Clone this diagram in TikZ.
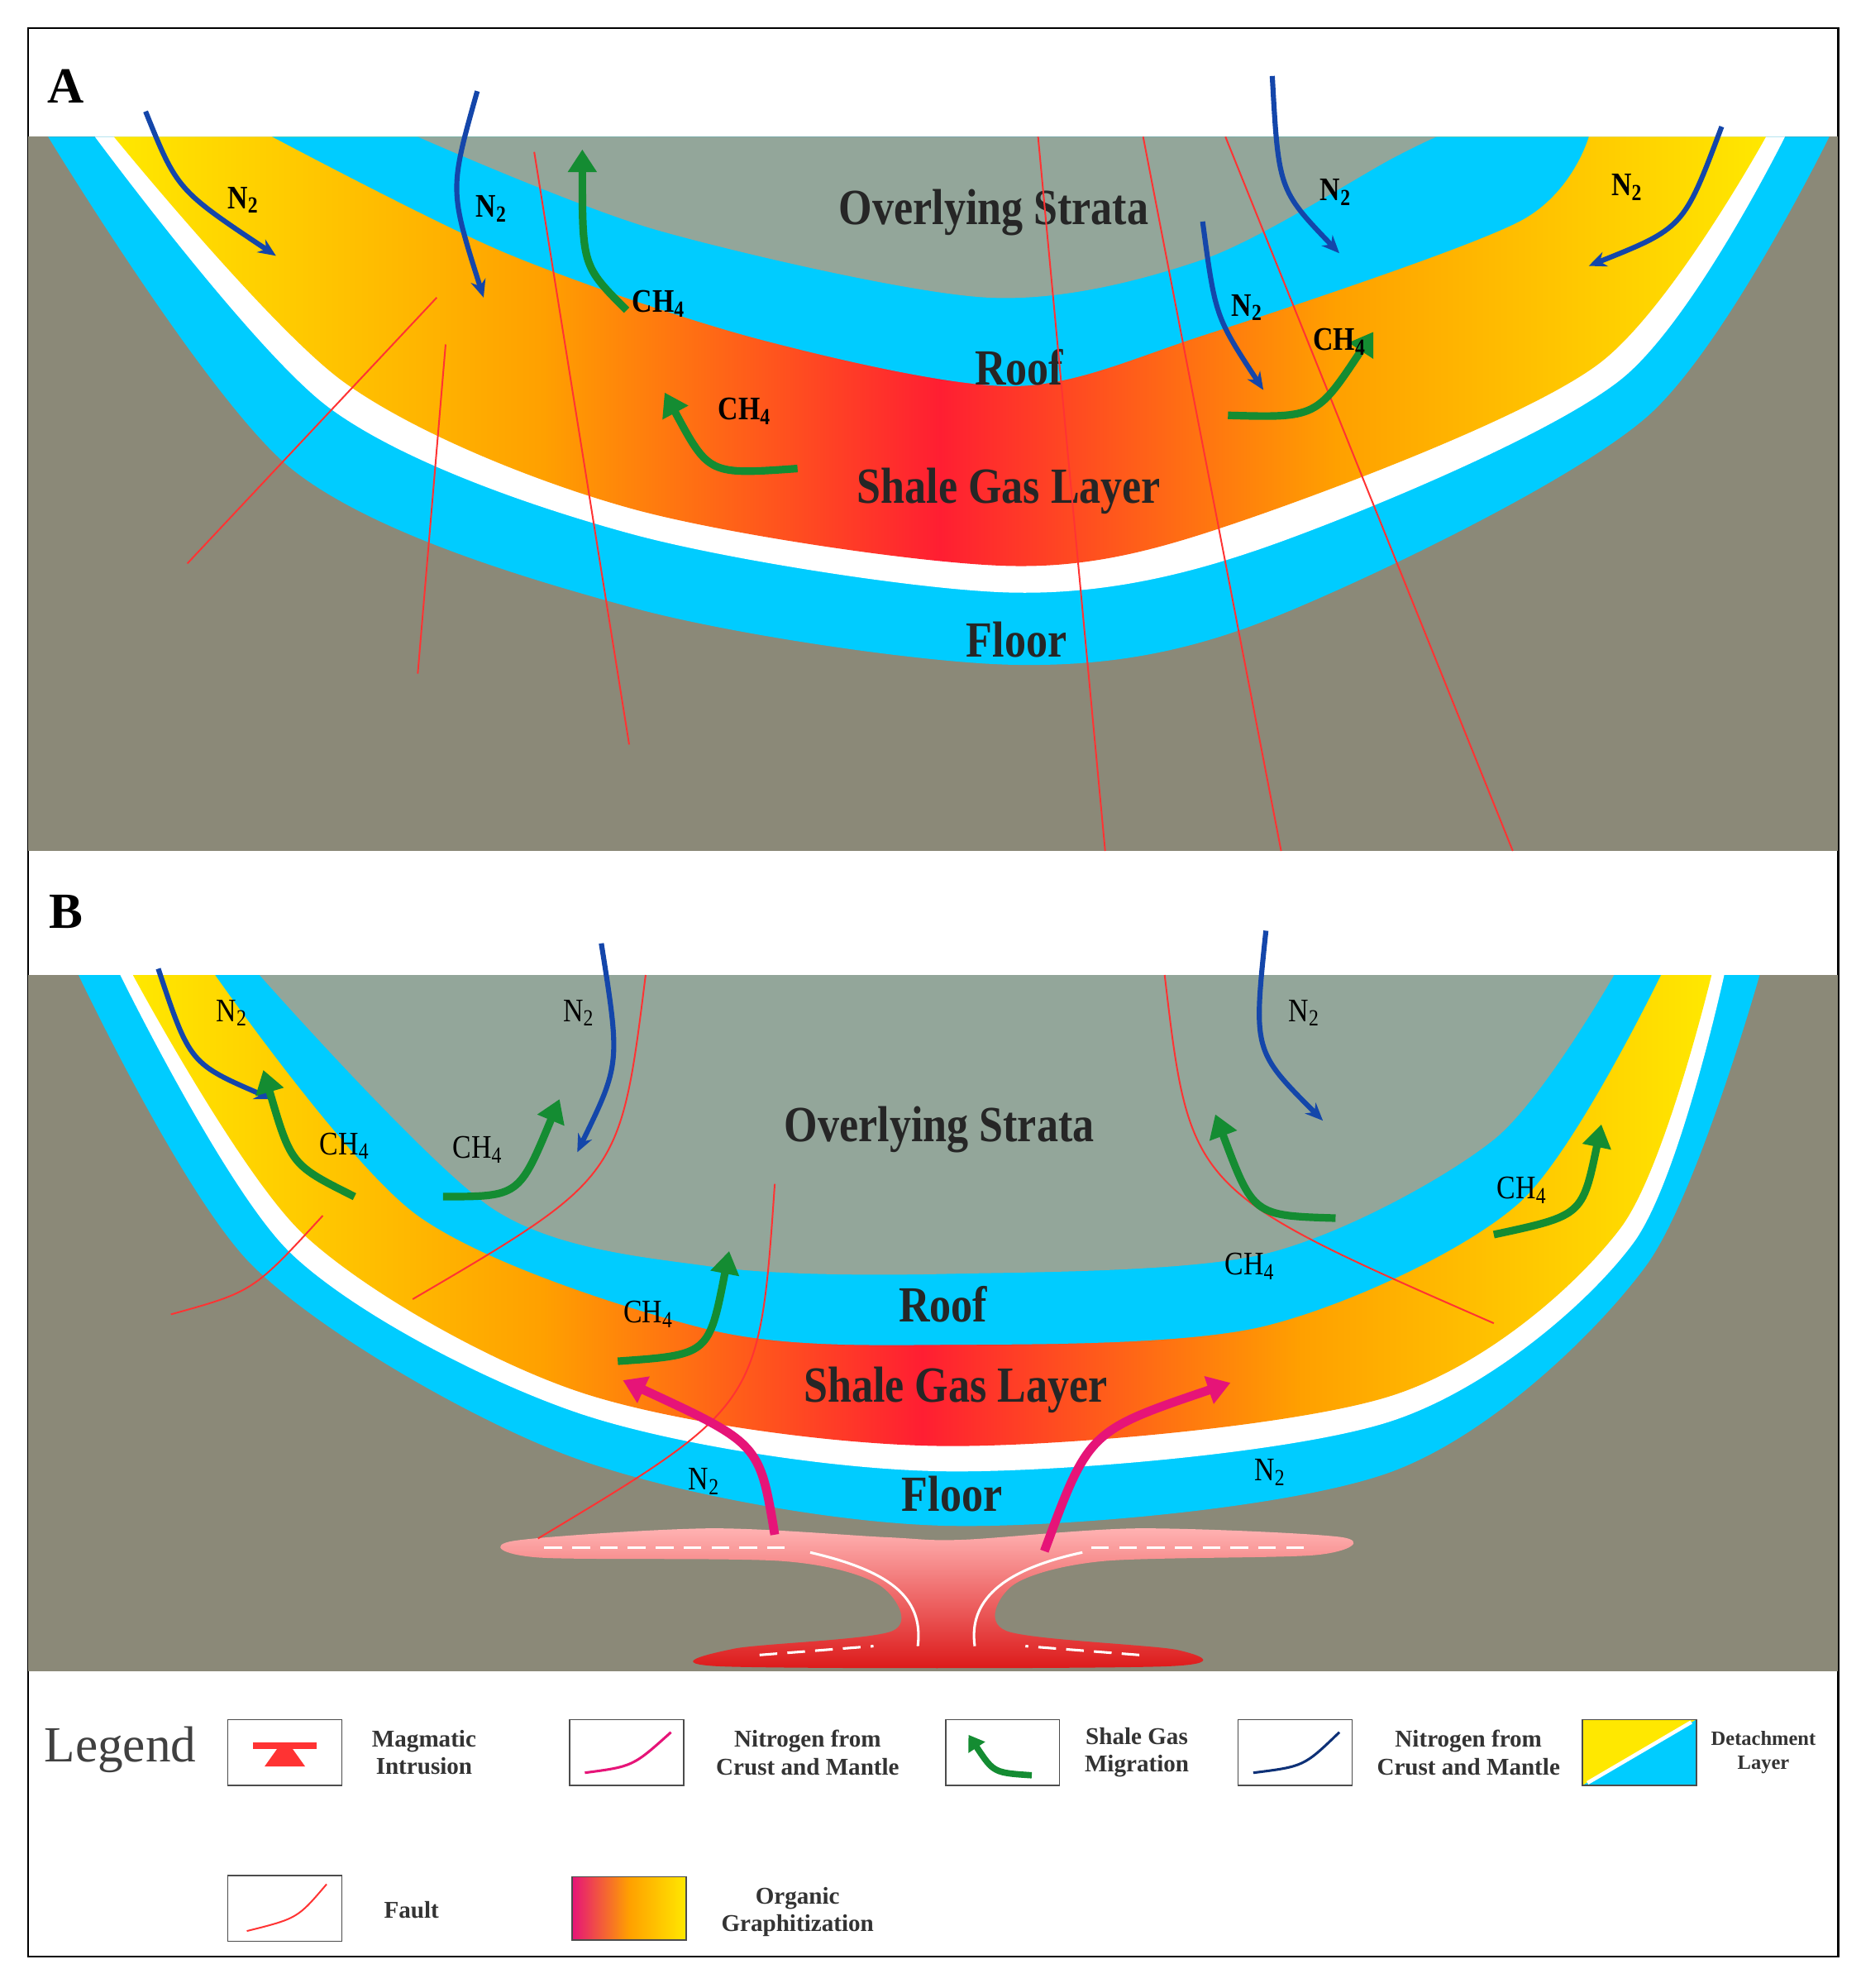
\documentclass[tikz,border=0pt]{standalone}
\usepackage{fontspec}
\setmainfont{Liberation Serif}
\usetikzlibrary{arrows.meta}
\definecolor{bg}{RGB}{139,137,120}
\definecolor{ovl}{RGB}{147,166,154}
\definecolor{cy}{RGB}{0,204,255}
\definecolor{yl}{RGB}{255,232,0}
\definecolor{orn}{RGB}{255,160,0}
\definecolor{rd}{RGB}{255,30,50}
\definecolor{n2}{RGB}{20,70,170}
\definecolor{gr}{RGB}{20,140,50}
\definecolor{mg}{RGB}{230,20,120}
\pgfdeclarehorizontalshading{shale}{100bp}{color(0bp)=(yl);color(25bp)=(yl);color(38bp)=(orn);color(50bp)=(rd);color(62bp)=(orn);color(75bp)=(yl);color(100bp)=(yl)}
\pgfdeclarehorizontalshading{org}{100bp}{color(0bp)=(mg);color(25bp)=(mg);color(50bp)=(orn);color(75bp)=(yl);color(100bp)=(yl)}
\tikzset{
 big/.style={font=\fontsize{40}{44}\bfseries\selectfont,xscale=0.85,text=black!85},
 lab/.style={font=\fontsize{26}{28}\bfseries\selectfont,xscale=0.85},
 labn/.style={font=\fontsize{26}{28}\selectfont,xscale=0.85},
 leg/.style={font=\fontsize{19}{22}\bfseries\selectfont,align=center,text=black!80},
 nn/.style={n2,line width=4pt,-{Stealth[length=14pt,width=12pt]}},
 ch/.style={gr,line width=6pt,-{Triangle[length=18pt,width=22pt]}},
 pk/.style={mg,line width=7pt,-{Triangle[length=18pt,width=22pt]}},
 fault/.style={red!80!white,line width=1.3pt},
 box/.style={draw=black!70,line width=1pt,fill=white}
}
\begin{document}
\begin{tikzpicture}[x=1pt,y=-1pt]
\useasboundingbox (0,0) rectangle (1470,1570);
\fill[white] (0,0) rectangle (1470,1570);
\draw[line width=1.5pt] (22,22) rectangle (1452,1545);
% ---------- Panel A
\fill[bg] (22,108) rectangle (1452,672);
\fill[cy] plot[smooth] coordinates {(38,108) (230,370) (500,480) (800,525) (1000,490) (1300,330) (1445,108)} -- cycle;
\fill[white] plot[smooth] coordinates {(75,108) (260,322) (500,422) (800,468) (1000,432) (1280,300) (1410,108)} -- cycle;
\shade[shading=shale] plot[smooth] coordinates {(90,108) (272,302) (500,402) (800,447) (985,410) (1262,288) (1395,108)} -- cycle;
\fill[cy] plot[smooth] coordinates {(215,108) (400,200) (600,268) (800,305) (950,265) (1200,175) (1255,108)} -- cycle;
\fill[ovl] plot[smooth] coordinates {(330,108) (520,182) (780,235) (950,205) (1100,125) (1135,108)} -- cycle;
\node[big] (ovA) at (785,168) {Overlying Strata};
\node[big] (rfA) at (805,290) {Roof};
\node[big] (shA) at (797,388) {Shale Gas Layer};
\node[big] (flA) at (803,505) {Floor};
\coordinate (fa1) at (148,445); \coordinate (fa2) at (345,235);
\coordinate (fb1) at (330,532); \coordinate (fb2) at (352,272);
\coordinate (fc1) at (497,588); \coordinate (fc2) at (422,120);
\coordinate (fd1) at (873,672); \coordinate (fd2) at (820,108);
\coordinate (fe1) at (1012,672); \coordinate (fe2) at (903,108);
\coordinate (ff1) at (1195,672); \coordinate (ff2) at (968,108);
\draw[fault] (fa1)--(fa2); \draw[fault] (fb1)--(fb2); \draw[fault] (fc1)--(fc2);
\draw[fault] (fd1)--(fd2); \draw[fault] (fe1)--(fe2); \draw[fault] (ff1)--(ff2);
\node[font=\fontsize{40}{44}\bfseries\selectfont] (A) at (52,68) {A};
% N2 arrows A
\coordinate (a1s) at (115,88); \coordinate (a1e) at (218,202);
\draw[nn] (a1s) .. controls (140,150) .. (a1e);
\coordinate (a2s) at (377,72); \coordinate (a2e) at (382,235);
\draw[nn] (a2s) .. controls (355,150) .. (a2e);
\coordinate (a3s) at (1005,60); \coordinate (a3e) at (1058,200);
\draw[nn] (a3s) .. controls (1010,150) .. (a3e);
\coordinate (a4s) at (1360,100); \coordinate (a4e) at (1255,210);
\draw[nn] (a4s) .. controls (1330,180) .. (a4e);
\coordinate (a5s) at (950,175); \coordinate (a5e) at (998,308);
\draw[nn] (a5s) .. controls (960,250) .. (a5e);
\node[lab] at (192,158) {N\textsubscript{2}};
\node[lab] at (388,165) {N\textsubscript{2}};
\node[lab] at (1055,152) {N\textsubscript{2}};
\node[lab] at (1285,148) {N\textsubscript{2}};
\node[lab] at (985,243) {N\textsubscript{2}};
% CH4 arrows A
\coordinate (c1s) at (495,245); \coordinate (c1e) at (460,118);
\draw[ch] (c1s) .. controls (460,210) .. (c1e);
\coordinate (c2s) at (630,370); \coordinate (c2e) at (525,310);
\draw[ch] (c2s) .. controls (560,375) .. (c2e);
\coordinate (c3s) at (970,328); \coordinate (c3e) at (1085,262);
\draw[ch] (c3s) .. controls (1040,330) .. (c3e);
\node[lab] at (520,240) {CH\textsubscript{4}};
\node[lab] at (588,325) {CH\textsubscript{4}};
\node[lab] at (1058,270) {CH\textsubscript{4}};
% ---------- Panel B
\fill[bg] (22,770) rectangle (1452,1320);
\fill[cy] plot[smooth] coordinates {(62,770) (200,1000) (450,1150) (750,1205) (1100,1162) (1300,1000) (1390,770)} -- cycle;
\fill[white] plot[smooth] coordinates {(95,770) (230,990) (460,1117) (750,1162) (1100,1122) (1290,982) (1362,770)} -- cycle;
\shade[shading=shale] plot[smooth] coordinates {(105,770) (240,975) (460,1100) (750,1142) (1100,1102) (1280,970) (1352,770)} -- cycle;
\fill[cy] plot[smooth] coordinates {(170,770) (330,960) (560,1050) (750,1062) (1000,1047) (1200,950) (1312,770)} -- cycle;
\fill[ovl] plot[smooth] coordinates {(205,770) (390,955) (560,1000) (750,1006) (1000,990) (1180,900) (1275,770)} -- cycle;
% magma
\shade[top color=red!30!white,bottom color=red!85!black!90] plot[smooth cycle] coordinates {(405,1217) (560,1207) (700,1214) (760,1216) (900,1207) (1060,1214) (1040,1228) (870,1233) (800,1252) (795,1288) (930,1303) (920,1316) (570,1316) (580,1302) (705,1288) (695,1252) (620,1233) (425,1230)};
\draw[white,line width=2pt,dash pattern=on 14pt off 8pt] (430,1222) -- (620,1222);
\draw[white,line width=2pt,dash pattern=on 14pt off 8pt] (1030,1222) -- (860,1222);
\draw[white,line width=2pt] (640,1226) .. controls (700,1240) and (730,1260) .. (725,1300);
\draw[white,line width=2pt] (855,1226) .. controls (790,1240) and (765,1265) .. (770,1300);
\draw[white,line width=2pt,dash pattern=on 14pt off 8pt] (600,1307) -- (690,1300);
\draw[white,line width=2pt,dash pattern=on 14pt off 8pt] (900,1307) -- (810,1300);
\node[big] (ovB) at (742,892) {Overlying Strata};
\node[big] (rfB) at (745,1030) {Roof};
\node[big] (shB) at (755,1098) {Shale Gas Layer};
\node[big] (flB) at (752,1180) {Floor};
\node[font=\fontsize{40}{44}\bfseries\selectfont] (B) at (52,720) {B};
% faults B
\coordinate (g1s) at (135,1038); \coordinate (g1e) at (255,960);
\draw[fault] (g1s) .. controls (200,1020) .. (g1e);
\coordinate (g2s) at (326,1026); \coordinate (g2e) at (510,770);
\draw[fault] (g2s) .. controls (490,930) .. (g2e);
\coordinate (g3s) at (425,1215); \coordinate (g3e) at (612,935);
\draw[fault] (g3s) .. controls (600,1110) .. (g3e);
\coordinate (g4s) at (920,770); \coordinate (g4e) at (1180,1045);
\draw[fault] (g4s) .. controls (940,940) .. (g4e);
% N2 B
\coordinate (b1s) at (125,765); \coordinate (b1e) at (215,868);
\draw[nn] (b1s) .. controls (150,840) .. (b1e);
\coordinate (b2s) at (475,745); \coordinate (b2e) at (456,910);
\draw[nn] (b2s) .. controls (490,840) .. (b2e);
\coordinate (b3s) at (1000,735); \coordinate (b3e) at (1045,885);
\draw[nn] (b3s) .. controls (990,830) .. (b3e);
\node[labn] at (183,800) {N\textsubscript{2}};
\node[labn] at (457,800) {N\textsubscript{2}};
\node[labn] at (1030,800) {N\textsubscript{2}};
\node[labn] at (556,1170) {N\textsubscript{2}};
\node[labn] at (1003,1163) {N\textsubscript{2}};
% CH4 B
\coordinate (d1s) at (280,945); \coordinate (d1e) at (208,845);
\draw[ch] (d1s) .. controls (230,920) .. (d1e);
\coordinate (d2s) at (350,945); \coordinate (d2e) at (442,868);
\draw[ch] (d2s) .. controls (410,945) .. (d2e);
\coordinate (d3s) at (1055,962); \coordinate (d3e) at (960,880);
\draw[ch] (d3s) .. controls (990,960) .. (d3e);
\coordinate (d4s) at (1180,975); \coordinate (d4e) at (1265,888);
\draw[ch] (d4s) .. controls (1250,960) .. (d4e);
\coordinate (d5s) at (488,1075); \coordinate (d5e) at (576,988);
\draw[ch] (d5s) .. controls (560,1070) .. (d5e);
\node[labn] at (272,905) {CH\textsubscript{4}};
\node[labn] at (377,908) {CH\textsubscript{4}};
\node[labn] at (1202,940) {CH\textsubscript{4}};
\node[labn] at (512,1038) {CH\textsubscript{4}};
\node[labn] at (987,1000) {CH\textsubscript{4}};
% pink arrows
\coordinate (p1s) at (612,1212); \coordinate (p1e) at (492,1090);
\draw[pk] (p1s) .. controls (600,1140) .. (p1e);
\coordinate (p2s) at (825,1225); \coordinate (p2e) at (972,1092);
\draw[pk] (p2s) .. controls (860,1130) .. (p2e);
% ---------- Legend
\node[font=\fontsize{40}{44}\selectfont,text=black!75] (lg) at (95,1382) {Legend};
\node[box,minimum width=90pt,minimum height=52pt] (L1) at (225,1384) {};
\fill[red!80] (L1.center)++(-25,-8) rectangle ++(50,5);
\fill[red!80] (L1.center)++(-6,-3) -- ++(12,0) -- ++(10,14) -- ++(-32,0) -- cycle;
\node[leg] (T1) at (335,1384) {Magmatic\\Intrusion};
\node[box,minimum width=90pt,minimum height=52pt] (L2) at (495,1384) {};
\draw[mg,line width=2pt] (462,1400) .. controls (500,1395) .. (530,1368);
\node[leg] (T2) at (638,1384) {Nitrogen from\\Crust and Mantle};
\node[box,minimum width=90pt,minimum height=52pt] (L3) at (792,1384) {};
\draw[gr,line width=5pt,-{Triangle[length=12pt,width=15pt]}] (815,1402) .. controls (785,1400) .. (765,1370);
\node[leg] (T3) at (898,1384) {Shale Gas\\Migration};
\node[box,minimum width=90pt,minimum height=52pt] (L4) at (1023,1384) {};
\draw[n2!70!black,line width=2pt] (990,1400) .. controls (1030,1395) .. (1058,1368);
\node[leg] (T4) at (1160,1384) {Nitrogen from\\Crust and Mantle};
\node[box,minimum width=90pt,minimum height=52pt] (L5) at (1295,1384) {};
\fill[yl] (1250,1358) -- (1340,1358) -- (1250,1410) -- cycle;
\fill[cy] (1340,1358) -- (1340,1410) -- (1250,1410) -- cycle;
\draw[white,line width=3pt] (1254,1408) -- (1336,1360);
\draw[black!70,line width=1pt] (1250,1358) rectangle (1340,1410);
\node[leg,font=\fontsize{16}{19}\bfseries\selectfont] (T5) at (1393,1384) {Detachment\\Layer};
\node[box,minimum width=90pt,minimum height=52pt] (L6) at (225,1507) {};
\draw[fault] (195,1525) .. controls (235,1515) .. (258,1488);
\node[leg] (T6) at (325,1508) {Fault};
\shade[shading=org] (452,1482) rectangle (542,1532);
\draw[black!70,line width=1pt] (452,1482) rectangle (542,1532);
\node[leg] (T7) at (630,1510) {Organic\\Graphitization};
\end{tikzpicture}
\end{document}
